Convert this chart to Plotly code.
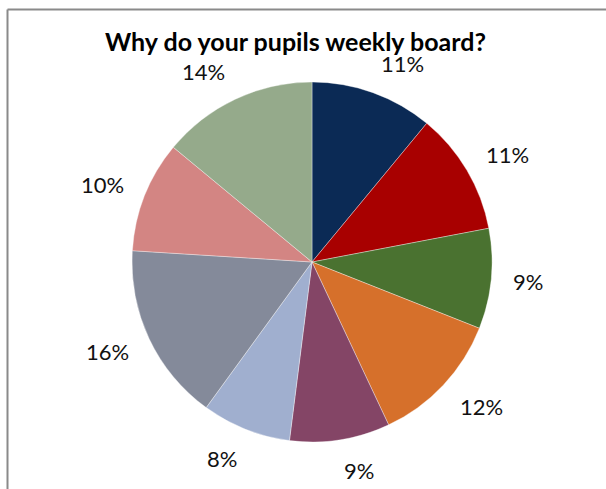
import math
import plotly.graph_objects as go

# Reasons for weekly boarding, share of responses (%), clockwise from 12 o'clock
reasons = ["Reason A", "Reason B", "Reason C", "Reason D", "Reason E",
           "Reason F", "Reason G", "Reason H", "Reason I"]
shares = [11, 11, 9, 12, 9, 8, 16, 10, 14]
colors = ["#0B2A55", "#A80000", "#4A7230", "#D6702B", "#844566",
          "#A0AFCF", "#848A9A", "#D38583", "#95AA8B"]

W, H = 606, 489
CX, CY, R = 312, 262, 180          # pie centre and radius in pixels
LABEL_R = 201                       # distance of the label's inner edge from the centre
HALF_H = 10                         # half the height of a label's glyphs

fig = go.Figure(go.Pie(
    labels=reasons,
    values=shares,
    sort=False,
    direction="clockwise",
    rotation=0,
    marker=dict(colors=colors, line=dict(color="rgba(255,255,255,0.6)", width=0.6)),
    textinfo="none",
    showlegend=False,
    hoverinfo="label+percent",
    domain=dict(x=[(CX - R) / W, (CX + R) / W], y=[1 - (CY + R) / H, 1 - (CY - R) / H]),
))

# percentage labels outside each slice, along the slice's mid-angle ray
annotations = []
total = sum(shares)
cum = 0
for v in shares:
    mid = (cum + v / 2) / total * 2 * math.pi
    cum += v
    ux, uy = math.sin(mid), math.cos(mid)
    annotations.append(dict(
        text=f"{v}%",
        x=(CX + LABEL_R * ux) / W,
        y=1 - (CY - (LABEL_R + HALF_H) * uy) / H,
        xref="paper", yref="paper",
        xanchor="left" if ux >= 0 else "right",
        yanchor="middle",
        showarrow=False, borderpad=0,
        font=dict(family="Lato", size=22, color="#111111"),
    ))

annotations.append(dict(
    text="<b>Why do your pupils weekly board?</b>",
    x=295 / W, y=1 - 41 / H, xref="paper", yref="paper",
    xanchor="center", yanchor="middle", showarrow=False,
    font=dict(family="Lato", size=25, color="#000000"),
))

fig.update_layout(
    width=W, height=H,
    margin=dict(l=0, r=0, t=0, b=0),
    paper_bgcolor="white",
    plot_bgcolor="white",
    annotations=annotations,
    shapes=[
        dict(type="line", xref="paper", yref="paper",
             x0=7.5 / W, x1=1, y0=1 - 9.5 / H, y1=1 - 9.5 / H,
             line=dict(color="#8A8A8A", width=2)),
        dict(type="line", xref="paper", yref="paper",
             x0=7.5 / W, x1=7.5 / W, y0=0, y1=1 - 9.5 / H,
             line=dict(color="#8A8A8A", width=2)),
    ],
)

fig.write_html("out.html")
